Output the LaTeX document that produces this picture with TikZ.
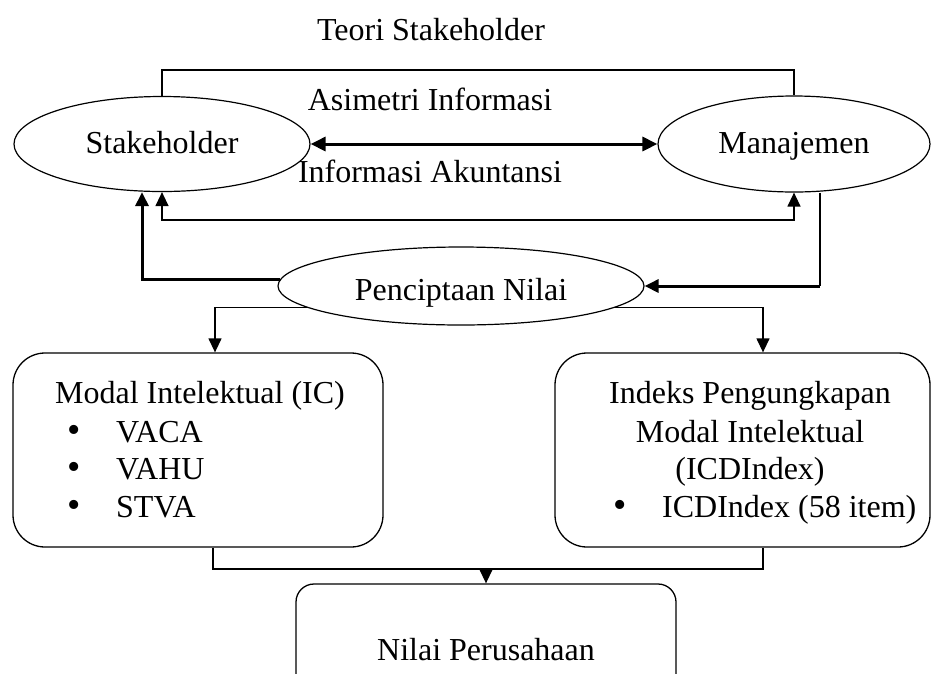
\documentclass[tikz,border=0pt]{standalone}
\usepackage{fontspec}
\setmainfont{Liberation Serif}
\usetikzlibrary{shapes.geometric,arrows.meta,calc}
\newcommand{\bigbul}{{\fontsize{38}{38}\selectfont\textbullet}}
\begin{document}
\begin{tikzpicture}[x=1pt,y=-1pt,
  font=\fontsize{32}{38}\selectfont,
  ell/.style={draw,ellipse,line width=1.2pt,inner sep=0pt,text height=24pt,text depth=6pt},
  rbox/.style={draw,line width=1.3pt,rounded corners=32pt,inner sep=0pt},
  tline/.style={line width=1.3pt},
  heavy/.style={line width=3pt},
  arr/.style={-{Triangle[length=14pt,width=13pt]}},
  lbl/.style={anchor=base,inner sep=0pt}
]
\useasboundingbox (0,0) rectangle (931,673);
\clip (0,0) rectangle (931,673);

% texts
\node[lbl] (title) at (431,40) {Teori Stakeholder};
\node[lbl] (asim) at (430,110) {Asimetri Informasi};
\node[lbl] (akun) at (430,182) {Informasi Akuntansi};

% ellipses
\node[ell, minimum width=296pt, minimum height=95pt] (stk) at (162,144) {Stakeholder};
\node[ell, minimum width=272pt, minimum height=96pt] (man) at (794,144) {Manajemen};
\node[ell, minimum width=366pt, minimum height=78pt, text height=28pt, text depth=0pt] (pen) at (461,286) {Penciptaan Nilai};

% boxes
\node[rbox, minimum width=370pt, minimum height=194pt] (ic) at (198,450) {};
\node[rbox, minimum width=375pt, minimum height=194pt] (icd) at (742.5,450) {};
\node[rbox, rounded corners=18pt, minimum width=380pt, minimum height=134pt,
      text height=24pt, text depth=6pt] (npv) at (486,651) {Nilai Perusahaan};

% box texts
\node[lbl] (ict) at (200,403) {Modal Intelektual (IC)};
\node[lbl] (b1) at (74,442) {\bigbul};
\node[lbl, anchor=base west] (v1) at (116,442) {VACA};
\node[lbl] (b2) at (74,479) {\bigbul};
\node[lbl, anchor=base west] (v2) at (116,479) {VAHU};
\node[lbl] (b3) at (74,517) {\bigbul};
\node[lbl, anchor=base west] (v3) at (116,517) {STVA};

\node[lbl] (icdt1) at (750,403) {Indeks Pengungkapan};
\node[lbl] (icdt2) at (750,442) {Modal Intelektual};
\node[lbl] (icdt3) at (750,479) {(ICDIndex)};
\node[lbl] (b4) at (620,517) {\bigbul};
\node[lbl, anchor=base west] (v4) at (662,517) {ICDIndex (58 item)};

% coordinates
\coordinate (topmid) at (480,70);
\coordinate (lowline) at (480,220);
\coordinate (rx) at (820,0);
\coordinate (botline) at (480,569);

% connectors
\draw[tline] (stk.north) |- (topmid) -| (man.north);
\draw[heavy, {Triangle[length=15pt,width=14pt]}-{Triangle[length=15pt,width=14pt]}] (stk.east) -- (man.west);
\draw[tline, {Triangle[length=14pt,width=13pt]}-{Triangle[length=14pt,width=13pt]}] (stk.south) |- (lowline) -| (man.south);
\draw[heavy, arr] (pen.178) -| ([xshift=-20pt]stk.south);
\draw[tline] ([xshift=26pt]man.south) -- (pen.east -| rx);
\draw[heavy, arr] (pen.east -| rx) -- (pen.east);
\draw[tline, arr] (pen.188) -| ([xshift=17pt]ic.north);
\draw[tline, arr] (pen.352) -| ([xshift=20.5pt]icd.north);
\draw[line width=1.6pt] ([xshift=15pt]ic.south) |- (botline) -| ([xshift=20.5pt]icd.south);
\draw[tline, arr] (botline -| npv.north) -- (npv.north);
\end{tikzpicture}
\end{document}
